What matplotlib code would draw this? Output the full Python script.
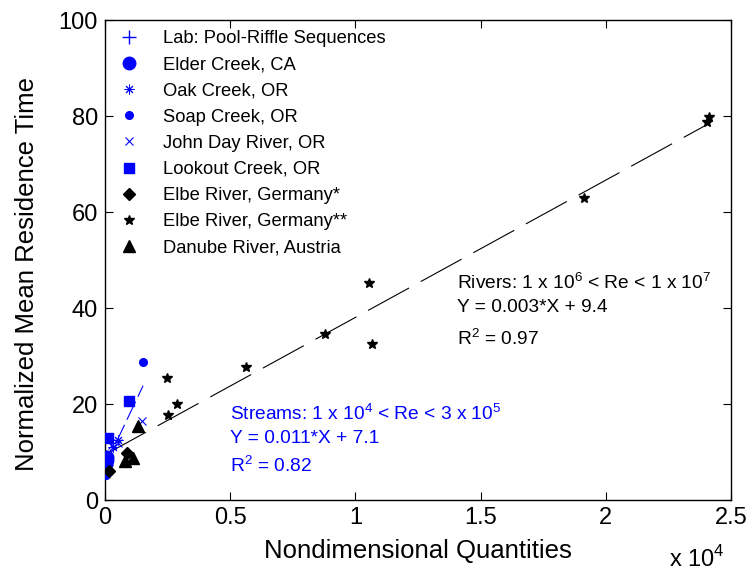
import matplotlib
matplotlib.use("Agg")
import matplotlib.pyplot as plt
import numpy as np

plt.rcParams['font.family'] = ['Liberation Sans', 'DejaVu Sans']
plt.rcParams['mathtext.fontset'] = 'custom'
plt.rcParams['mathtext.rm'] = 'Liberation Sans'

# data
lab_x = [10, 20, 30, 15, 25]
lab_y = [6.5, 7.2, 8.0, 8.6, 9.0]
elder_x = [40, 60, 80]
elder_y = [7.5, 8.3, 9.0]
oak_x = [300, 520]
oak_y = [11.0, 12.5]
soap_x = [1520, 30]
soap_y = [28.7, 5.3]
john_x = [280, 520, 1480]
john_y = [11.5, 11.9, 16.5]
lookout_x = [120, 960]
lookout_y = [12.9, 20.6]
elbe1_x = [160, 880]
elbe1_y = [6.0, 9.8]
elbe2_x = [2480, 2520, 2880, 5630, 8790, 10540, 10660, 19130, 24040, 24120]
elbe2_y = [25.4, 17.7, 20.0, 27.7, 34.6, 45.2, 32.5, 62.9, 78.7, 79.8]
danube_x = [800, 1120, 1320]
danube_y = [8.1, 8.7, 15.4]

rivers_fit = (0.00286, 9.45)
rivers_range = [0, 24100]
streams_fit = (0.011, 7.1)
streams_range = [0, 1520]

blue = '#0000ff'

fig = plt.figure(figsize=(7.54, 5.77), dpi=100)
ax = fig.add_axes([0.1393, 0.1334, 0.8302, 0.8319])

ax.plot(lab_x, lab_y, '+', color=blue, ms=10, mew=1, label='Lab: Pool-Riffle Sequences', zorder=3)
ax.plot(elder_x, elder_y, 'o', color=blue, ms=9, label='Elder Creek, CA', zorder=3)
ax.plot(oak_x, oak_y, ls='none', marker=(8, 2, 0), color=blue, ms=7, mew=0.7, label='Oak Creek, OR', zorder=3)
ax.plot(soap_x, soap_y, 'o', color=blue, ms=5.5, label='Soap Creek, OR', zorder=3)
ax.plot(john_x, john_y, 'x', color=blue, ms=6, mew=0.8, label='John Day River, OR', zorder=3)
ax.plot(lookout_x, lookout_y, 's', color=blue, ms=6.5, label='Lookout Creek, OR', zorder=3)
ax.plot(elbe1_x, elbe1_y, 'D', color='k', ms=6.5, label='Elbe River, Germany*', zorder=3)
ax.plot(elbe2_x, elbe2_y, '*', color='k', ms=7.5, label='Elbe River, Germany**', zorder=3)
ax.plot(danube_x, danube_y, '^', color='k', ms=9, label='Danube River, Austria', zorder=3)

xr = np.array(rivers_range)
ax.plot(xr, rivers_fit[0] * xr + rivers_fit[1], color='k', lw=0.8, dashes=(42, 12), zorder=2)
xs = np.array(streams_range)
ax.plot(xs, streams_fit[0] * xs + streams_fit[1], color=blue, lw=0.8, dashes=(18, 5), zorder=2)

ax.set_xlim(0, 25000)
ax.set_ylim(0, 100)
ax.set_xticks([0, 5000, 10000, 15000, 20000, 25000])
ax.set_xticklabels(['0', '0.5', '1', '1.5', '2', '2.5'])
ax.set_yticks([0, 20, 40, 60, 80, 100])
ax.tick_params(direction='in', length=6, width=0.8, labelsize=17, top=True, right=True, pad=5)
for s in ax.spines.values():
    s.set_linewidth(1.0)

ax.set_xlabel('Nondimensional Quantities', fontsize=18.5, labelpad=7)
ax.set_ylabel('Normalized Mean Residence Time', fontsize=18.5, labelpad=12)
ax.yaxis.set_label_coords(-0.105, 0.47)
fig.text(0.887, 0.008, r'x 10$^{4}$', fontsize=17, ha='left', va='bottom')

leg = ax.legend(loc='upper left', frameon=False, fontsize=13.2, handlelength=1.5,
                handletextpad=1.1, labelspacing=0.5, borderaxespad=0.15, numpoints=1)

ax.text(14050, 45.4, r'Rivers: 1 x 10$^{6}$ < Re < 1 x 10$^{7}$', fontsize=13.8, va='center')
ax.text(14050, 40.2, 'Y = 0.003*X + 9.4', fontsize=13.8, va='center')
ax.text(14050, 33.7, r'R$^{2}$ = 0.97', fontsize=13.8, va='center')

ax.text(5000, 18.1, r'Streams: 1 x 10$^{4}$ < Re < 3 x 10$^{5}$', fontsize=13.8, va='center', color=blue)
ax.text(5000, 12.9, 'Y = 0.011*X + 7.1', fontsize=13.8, va='center', color=blue)
ax.text(5000, 7.1, r'R$^{2}$ = 0.82', fontsize=13.8, va='center', color=blue)

fig.savefig('out.png', dpi=100)
